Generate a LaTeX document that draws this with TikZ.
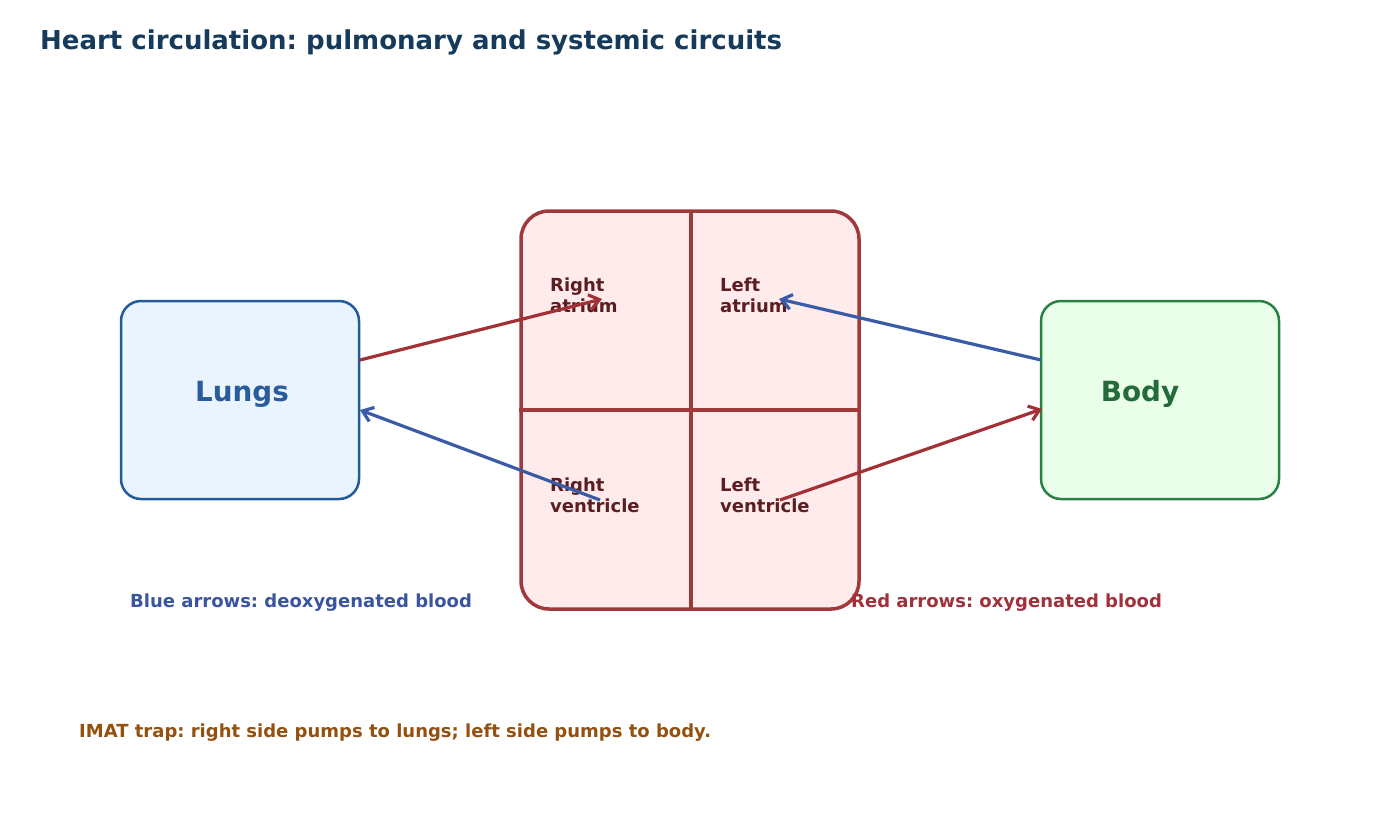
\documentclass[tikz,border=0pt]{standalone}
\usepackage{fontspec}
\setmainfont{DejaVu Sans}
\frenchspacing
\usetikzlibrary{arrows.meta}
\definecolor{titlec}{HTML}{153A5B}
\definecolor{heartb}{HTML}{A0393C}
\definecolor{heartf}{HTML}{FFEBEC}
\definecolor{lungb}{HTML}{245A9A}
\definecolor{lungf}{HTML}{EAF4FF}
\definecolor{lungt}{HTML}{2A5C9C}
\definecolor{bodyb}{HTML}{2A8045}
\definecolor{bodyf}{HTML}{EAFFEA}
\definecolor{bodyt}{HTML}{236B38}
\definecolor{chamt}{HTML}{5A1E22}
\definecolor{redarr}{HTML}{A33035}
\definecolor{bluearr}{HTML}{3A5BA5}
\definecolor{legblue}{HTML}{3A55A0}
\definecolor{legred}{HTML}{A0303A}
\definecolor{trapc}{HTML}{94500F}
\tikzset{
  organbox/.style={draw, line width=2.5pt, rounded corners=20pt, minimum width=238pt, minimum height=198pt, inner sep=0pt},
  heartbox/.style={draw=heartb, fill=heartf, line width=3.5pt, rounded corners=28pt, minimum width=338pt, minimum height=398pt, inner sep=0pt},
  bigtext/.style={font=\bfseries\fontsize{27.8}{32}\selectfont, inner sep=0pt, anchor=base},
  chamtext/.style={font=\bfseries\fontsize{18}{20.5}\selectfont, text=chamt, inner sep=0pt, anchor=base west, align=left},
  legtext/.style={font=\bfseries\fontsize{18}{21}\selectfont, inner sep=0pt, anchor=base west},
  flow/.style={line width=3.2pt, -{Straight Barb[length=10pt,width=15pt]}},
}
\begin{document}
\begin{tikzpicture}[x=1pt,y=-1pt]
\useasboundingbox (0,0) rectangle (1400,820);
\node[font=\bfseries\fontsize{26}{30}\selectfont, text=titlec, inner sep=0pt, anchor=base west] (title) at (40,49) {Heart circulation: pulmonary and systemic circuits};

\node[organbox, draw=lungb, fill=lungf] (lungs) at (240,400) {};
\node[bigtext, text=lungt] (lungslabel) at (242,401) {Lungs};
\node[organbox, draw=bodyb, fill=bodyf] (body) at (1160,400) {};
\node[bigtext, text=bodyt] (bodylabel) at (1140,401) {Body};

\node[heartbox] (heart) at (690,410) {};
\draw[heartb, line width=3.5pt] (691,211) -- (691,609);
\draw[heartb, line width=3.5pt] (heart.west) -- (heart.east);

\node[chamtext] (ra) at (550,312) {Right\\atrium};
\node[chamtext] (la) at (720,312) {Left\\atrium};
\node[chamtext] (rv) at (550,512) {Right\\ventricle};
\node[chamtext] (lv) at (720,512) {Left\\ventricle};

\coordinate (lungsout) at (360,360);
\coordinate (lungsin) at (360,410);
\coordinate (bodyout) at (1041,360);
\coordinate (bodyin) at (1042,409);
\coordinate (rain) at (602,299);
\coordinate (rvout) at (600,500);
\coordinate (lain) at (779,299);
\coordinate (lvout) at (780,500);

\draw[flow, redarr] (lungsout) -- (rain);
\draw[flow, bluearr] (rvout) -- (lungsin);
\draw[flow, bluearr] (bodyout) -- (lain);
\draw[flow, redarr] (lvout) -- (bodyin);

\node[legtext, text=legblue] (legb) at (130,607) {Blue arrows: deoxygenated blood};
\node[legtext, text=legred] (legr) at (851,607) {Red arrows: oxygenated blood};
\node[legtext, text=trapc] (trap) at (79,737) {IMAT trap: right side pumps to lungs; left side pumps to body.};
\end{tikzpicture}
\end{document}
